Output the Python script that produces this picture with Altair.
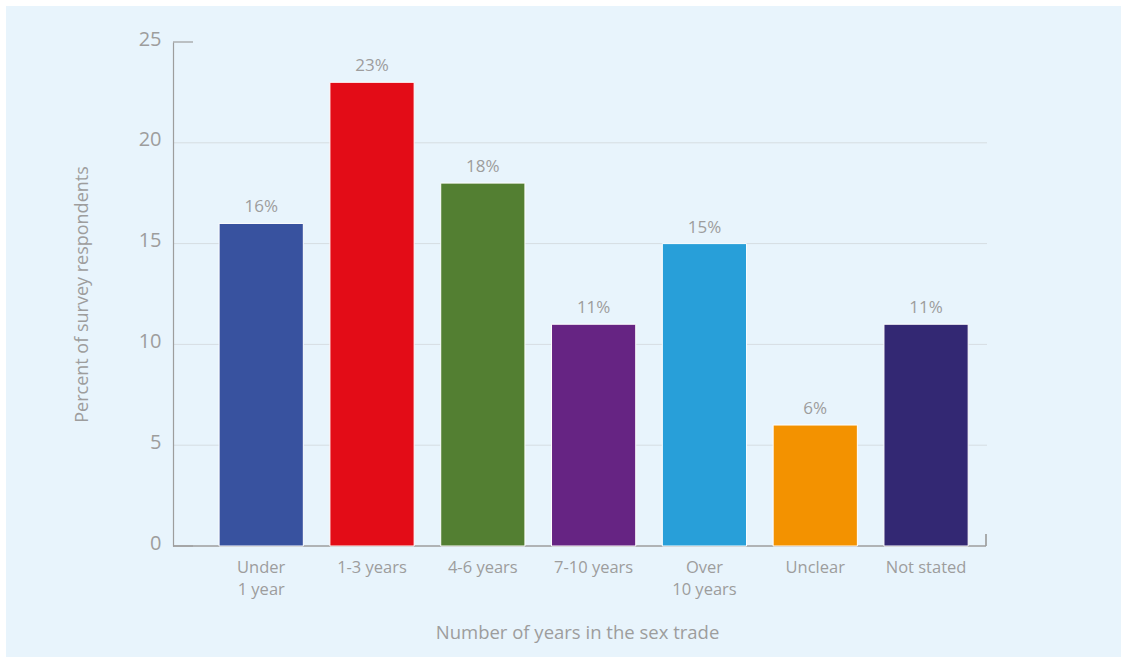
import altair as alt
import pandas as pd

categories = ["Under 1 year", "1-3 years", "4-6 years", "7-10 years", "Over 10 years", "Unclear", "Not stated"]
values = [16, 23, 18, 11, 15, 6, 11]
labels = ["16%", "23%", "18%", "11%", "15%", "6%", "11%"]
colors = ["#38529f", "#e30c17", "#537f32", "#662483", "#289fd9", "#f39200", "#332873"]
grid_values = [5, 10, 15, 20]
y_ticks = [0, 5, 10, 15, 20, 25]

W, H = 814, 504
GREY = "#9d9d9d"
FONT = "Open Sans"

df = pd.DataFrame({"cat": categories, "val": values, "lab": labels, "col": colors})
grid_df = pd.DataFrame({"v": grid_values})
edge_df = pd.DataFrame({"v": [0, 25]})

yscale = alt.Scale(domain=[0, 25], nice=False, zero=True)
xscale = alt.Scale(domain=categories, paddingInner=0.24, paddingOuter=0.293, align=0.71)

y_axis = alt.Axis(title="Percent of survey respondents", values=y_ticks,
                  ticks=False, grid=False, domain=True, domainColor=GREY,
                  domainWidth=1.2, labelColor=GREY, labelFont=FONT,
                  labelFontSize=20, labelPadding=12, labelOffset=-3, titleFont=FONT,
                  titleFontSize=18, titleFontWeight="normal", titleColor=GREY,
                  titleX=-91, titleY=252, titleAngle=-90, titleAlign="center",
                  titleBaseline="middle", zindex=1)

label_expr = ("datum.value == 'Under 1 year' ? ['Under', '1 year'] : "
              "datum.value == 'Over 10 years' ? ['Over', '10 years'] : datum.value")

x_axis = alt.Axis(title="Number of years in the sex trade", labelAngle=0,
                  labelExpr=label_expr, labelLineHeight=22, labelPadding=13,
                  ticks=False, domain=False, grid=False, labelColor=GREY,
                  labelFont=FONT, labelFontSize=16.5, titleFont=FONT,
                  titleFontSize=18.5, titleFontWeight="normal", titleColor=GREY,
                  titleY=86, titleX=404, titleBaseline="middle", zindex=1)

bg = alt.Chart(df).mark_rect(color="#e8f4fc").encode(
    x=alt.value(-167), x2=alt.value(948), y=alt.value(-36), y2=alt.value(615)
)

grid = alt.Chart(grid_df).mark_rule(color="#d6dde2", strokeWidth=1).encode(
    y=alt.Y("v:Q", scale=yscale, axis=y_axis), x=alt.value(0), x2=alt.value(W)
)

edge_ticks = alt.Chart(edge_df).mark_rule(color=GREY, strokeWidth=1.2).encode(
    y=alt.Y("v:Q", scale=yscale, axis=y_axis), x=alt.value(0), x2=alt.value(20)
)

baseline = alt.Chart(edge_df).mark_rule(color=GREY, strokeWidth=1.2).encode(
    x=alt.value(0), x2=alt.value(W - 1), y=alt.value(H)
)
right_tick = alt.Chart(edge_df).mark_rule(color=GREY, strokeWidth=1.2).encode(
    x=alt.value(W - 1), y=alt.value(H - 12), y2=alt.value(H)
)

bars = alt.Chart(df).mark_bar(stroke="white", strokeWidth=1).encode(
    x=alt.X("cat:N", scale=xscale, sort=categories, axis=x_axis),
    y=alt.Y("val:Q", scale=yscale, axis=y_axis),
    color=alt.Color("col:N", scale=None, legend=None),
)

text = alt.Chart(df).mark_text(baseline="bottom", dy=-7, font=FONT, fontSize=17, color=GREY).encode(
    x=alt.X("cat:N", scale=xscale, sort=categories, axis=x_axis),
    y=alt.Y("val:Q", scale=yscale, axis=y_axis),
    text="lab:N",
)

chart = alt.layer(bg, grid, edge_ticks, baseline, right_tick, bars, text).properties(
    width=W, height=H,
    autosize=alt.AutoSizeParams(type="none"),
    padding={"left": 173, "top": 42, "right": 140, "bottom": 117},
    background="white",
).configure_view(stroke=None)

chart.save("out.html", embed_options={"renderer": "svg", "actions": False})
